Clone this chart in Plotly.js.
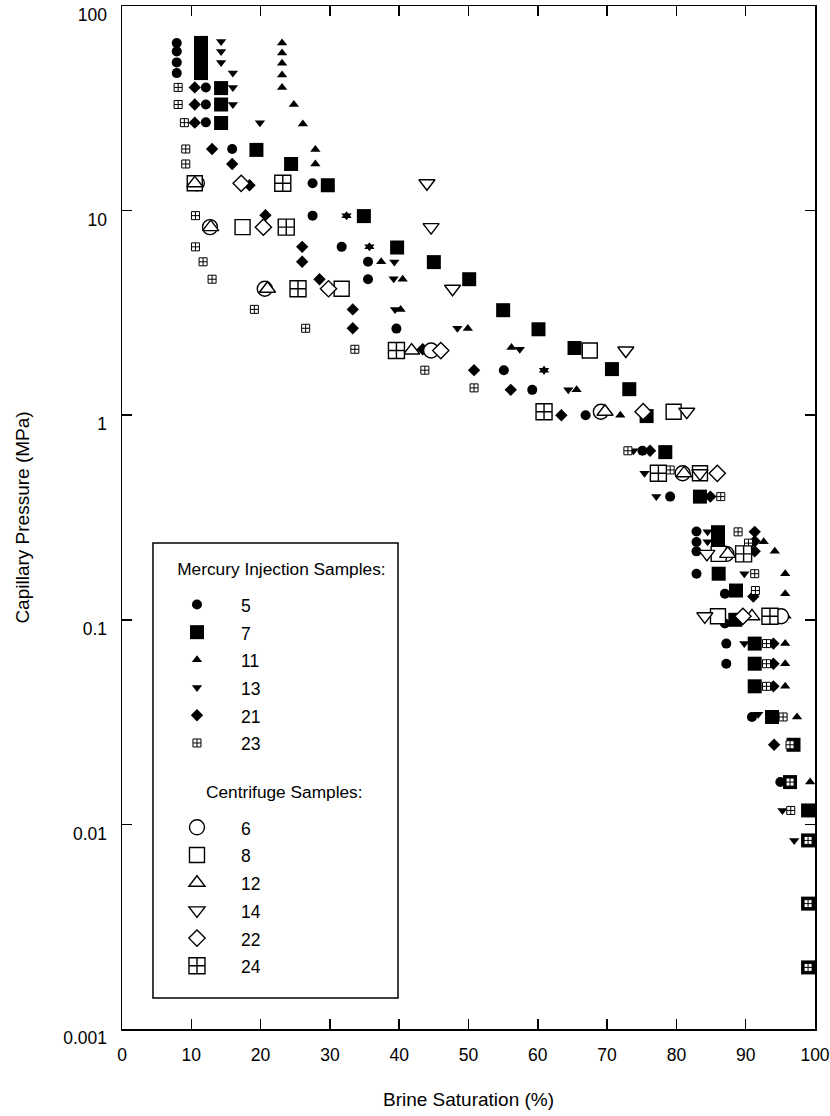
<!DOCTYPE html>
<html><head><meta charset="utf-8">
<script src="https://cdn.plot.ly/plotly-3.0.1.min.js"></script>
<style>html,body{margin:0;padding:0;background:#fff}</style>
</head><body><div id="chart" style="width:830px;height:1116px"></div>
<script>
// ---- Mercury injection samples (Brine saturation %, capillary pressure MPa) ----
const x5 = [7.9, 7.9, 7.9, 7.9, 12.1, 12.1, 12.1, 15.9, 27.5, 27.5, 31.7, 35.5, 35.5, 39.6, 55.1, 59.2, 66.9, 75.1, 79.1, 82.9, 82.9, 82.9, 82.9, 87.0, 87.0, 87.2, 87.2, 90.9, 95.0];
const y5 = [66, 60, 53, 47, 40, 33, 27, 20, 13.6, 9.45, 6.65, 5.62, 4.62, 2.65, 1.66, 1.33, 1.0, 0.67, 0.40, 0.27, 0.24, 0.216, 0.168, 0.134, 0.096, 0.0765, 0.061, 0.0335, 0.0161];
const x7 = [11.4, 11.4, 11.4, 11.4, 14.3, 14.3, 14.3, 19.4, 24.4, 29.7, 34.9, 39.7, 45.0, 50.1, 55.0, 60.1, 65.3, 70.7, 73.2, 75.7, 78.4, 83.4, 86.0, 86.0, 86.1, 88.6, 88.5, 91.3, 91.3, 91.3, 93.8, 96.9, 96.4, 99.0, 99.0, 99.0, 99.0];
const y7 = [66, 60, 53, 47, 39.7, 33, 26.8, 19.8, 16.9, 13.3, 9.4, 6.6, 5.6, 4.62, 3.26, 2.63, 2.13, 1.68, 1.34, 0.99, 0.66, 0.40, 0.268, 0.241, 0.168, 0.139, 0.10, 0.0765, 0.061, 0.0473, 0.0335, 0.0245, 0.0161, 0.0117, 0.00835, 0.0041, 0.0020];
const x11 = [23.1, 23.1, 23.1, 23.1, 23.1, 24.8, 26.1, 27.9, 27.9, 32.4, 35.7, 37.4, 40.5, 40.2, 49.9, 56.2, 60.9, 65.6, 71.9, 92.6, 94.2, 95.7, 95.7, 95.9, 95.7, 95.7, 95.7, 97.4, 99.3];
const y11 = [66, 59, 52.5, 46, 40, 33, 26.5, 19.9, 16.9, 9.45, 6.65, 5.62, 4.62, 3.29, 2.65, 2.14, 1.66, 1.33, 1.0, 0.241, 0.216, 0.168, 0.134, 0.104, 0.0765, 0.061, 0.0473, 0.0335, 0.0161];
const x13 = [14.3, 14.3, 14.3, 16.0, 16.0, 16.0, 19.9, 32.4, 35.7, 39.3, 39.2, 39.4, 48.4, 57.4, 60.9, 64.4, 73.8, 75.4, 77.1, 84.5, 84.5, 89.8, 89.8, 91.8, 95.3, 97.0];
const y13 = [67, 60, 53, 47, 40, 33, 26.9, 9.45, 6.65, 5.6, 4.64, 3.29, 2.66, 2.1, 1.66, 1.33, 0.67, 0.52, 0.40, 0.269, 0.241, 0.168, 0.0765, 0.0345, 0.0117, 0.00835];
const x21 = [10.5, 10.5, 10.5, 13.0, 15.9, 18.4, 20.7, 26.0, 26.0, 28.5, 33.3, 33.3, 43.4, 50.8, 56.1, 63.4, 76.2, 84.9, 91.3, 91.3, 91.3, 91.1, 94.0, 94.0, 94.0, 94.1];
const y21 = [40, 33, 26.9, 20, 16.9, 13.3, 9.5, 6.65, 5.62, 4.62, 3.29, 2.66, 2.1, 1.66, 1.33, 1.0, 0.67, 0.40, 0.269, 0.242, 0.216, 0.13, 0.0765, 0.061, 0.0473, 0.0245];
const x23 = [8.1, 8.1, 9.0, 9.2, 9.2, 10.6, 10.6, 11.7, 13.0, 19.1, 26.5, 33.6, 43.7, 50.8, 73.0, 79.1, 86.4, 88.9, 90.4, 91.3, 91.4, 93.0, 93.0, 93.0, 95.4, 96.4, 96.4, 96.5, 99.0, 99.0, 99.0];
const y23 = [40, 33, 26.9, 20, 16.9, 9.45, 6.65, 5.62, 4.62, 3.29, 2.66, 2.1, 1.66, 1.36, 0.67, 0.54, 0.40, 0.269, 0.237, 0.168, 0.139, 0.0765, 0.061, 0.0473, 0.0335, 0.0245, 0.0161, 0.0117, 0.00835, 0.0041, 0.0020];

// ---- Centrifuge samples ----
const x6 = [10.8, 12.7, 20.6, 44.6, 69.1, 80.9, 87.2, 95.1];
const y6 = [13.6, 8.3, 4.15, 2.07, 1.04, 0.52, 0.21, 0.104];
const x8 = [10.5, 17.4, 31.7, 67.5, 79.6, 83.4, 86.1, 86.0];
const y8 = [13.6, 8.3, 4.15, 2.07, 1.04, 0.52, 0.21, 0.104];
const x12 = [10.5, 12.8, 21.0, 41.8, 69.7, 81.1, 87.4, 90.9];
const y12 = [13.6, 8.3, 4.15, 2.07, 1.04, 0.52, 0.21, 0.104];
const x14 = [44.0, 44.6, 47.7, 72.7, 81.5, 83.4, 84.4, 84.1];
const y14 = [13.6, 8.3, 4.15, 2.07, 1.04, 0.52, 0.21, 0.104];
const x22 = [17.2, 20.4, 29.8, 46.0, 75.2, 85.9, 89.6];
const y22 = [13.6, 8.3, 4.15, 2.07, 1.04, 0.52, 0.104];
const x24 = [23.2, 23.7, 25.4, 39.6, 60.9, 77.4, 89.7, 93.5];
const y24 = [13.6, 8.3, 4.15, 2.07, 1.04, 0.52, 0.21, 0.104];

const yTickVals = [0.001, 0.01, 0.1, 1, 10, 100];
const yTickText = ['0.001', '0.01', '0.1', '1', '10', '100'];
const xTickVals = [0, 10, 20, 30, 40, 50, 60, 70, 80, 90, 100];

const FONT = 'Liberation Sans, Arial, Helvetica, sans-serif';
const NB = '\u00a0';

function lbl(s) { return '<span style="font-size:17.5px">' + s + '</span>'; }
function hdr(s, pad) {
  return '<span style="font-size:14.4px"><sup><span style="font-size:17.3px">' + NB.repeat(pad) + s + '</span></sup></span>';
}

function tr(name, x, y, symbol, size, fill, lw, group, gtitle) {
  const t = {
    type: 'scatter', mode: 'markers', x: x, y: y, name: lbl(name),
    cliponaxis: false,
    legendgroup: group,
    marker: { symbol: symbol, size: size, color: fill, line: { color: '#000', width: lw } }
  };
  if (gtitle) t.legendgrouptitle = { text: gtitle, font: { family: FONT, size: 30.5, color: '#000' } };
  return t;
}

const data = [
  tr('5', x5, y5, 'circle', 10, '#000', 0, 'm', hdr('Mercury Injection Samples:', 4)),
  tr('7', x7, y7, 'square', 14, '#000', 0, 'm'),
  tr('11', x11, y11, 'triangle-up', 9, '#000', 0, 'm'),
  tr('13', x13, y13, 'triangle-down', 9, '#000', 0, 'm'),
  tr('21', x21, y21, 'diamond', 9.5, '#000', 0, 'm'),
  tr('23', x23, y23, 'square-cross', 8, '#fff', 1, 'm'),
  tr('6', x6, y6, 'circle', 15, '#fff', 1.4, 'c', hdr('Centrifuge Samples:', 10)),
  tr('8', x8, y8, 'square', 15, '#fff', 1.4, 'c'),
  tr('12', x12, y12, 'triangle-up', 14, '#fff', 1.4, 'c'),
  tr('14', x14, y14, 'triangle-down', 14, '#fff', 1.4, 'c'),
  tr('22', x22, y22, 'diamond', 12.5, '#fff', 1.4, 'c'),
  tr('24', x24, y24, 'square-cross', 16, '#fff', 1.4, 'c')
];

const axisCommon = {
  showgrid: false, zeroline: false, showline: true, linecolor: '#000', linewidth: 1.5,
  mirror: 'ticks', ticks: 'inside', ticklen: 10, tickwidth: 1.5, tickcolor: '#000',
  ticklabeloverflow: 'allow',
  tickfont: { family: FONT, size: 17.5, color: '#000' }
};

const layout = {
  width: 830, height: 1116,
  margin: { l: 122, r: 15, t: 6, b: 87 },
  paper_bgcolor: '#fff', plot_bgcolor: '#fff',
  font: { family: FONT, color: '#000' },
  showlegend: true,
  xaxis: Object.assign({}, axisCommon, {
    range: [0, 100], tickmode: 'array', tickvals: xTickVals,
    ticklabelstandoff: 9,
    title: { text: 'Brine Saturation (%)', font: { family: FONT, size: 19, color: '#000' }, standoff: 29 }
  }),
  yaxis: Object.assign({}, axisCommon, {
    type: 'log', range: [-3, 2], tickmode: 'array', tickvals: yTickVals, ticktext: yTickText,
    ticklabelstandoff: 10, ticklabelshift: 9,
    title: { text: 'Capillary Pressure (MPa)', font: { family: FONT, size: 19, color: '#000' }, standoff: 28 }
  }),
  shapes: [{
    type: 'rect', xref: 'paper', yref: 'paper', layer: 'below',
    x0: 0.0447, x1: 0.3983, y0: 0.0303, y1: 0.4751,
    line: { color: '#000', width: 1.5 }, fillcolor: '#fff'
  }],
  legend: {
    x: 0.0447, y: 0.4751, xanchor: 'left', yanchor: 'top',
    bgcolor: 'rgba(0,0,0,0)', borderwidth: 0,
    font: { family: FONT, size: 19, color: '#000' },
    traceorder: 'grouped', tracegroupgap: 14, itemwidth: 78,
    itemclick: false, itemdoubleclick: false
  }
};

Plotly.newPlot('chart', data, layout, { staticPlot: true, displayModeBar: false });
</script>
</body></html>
